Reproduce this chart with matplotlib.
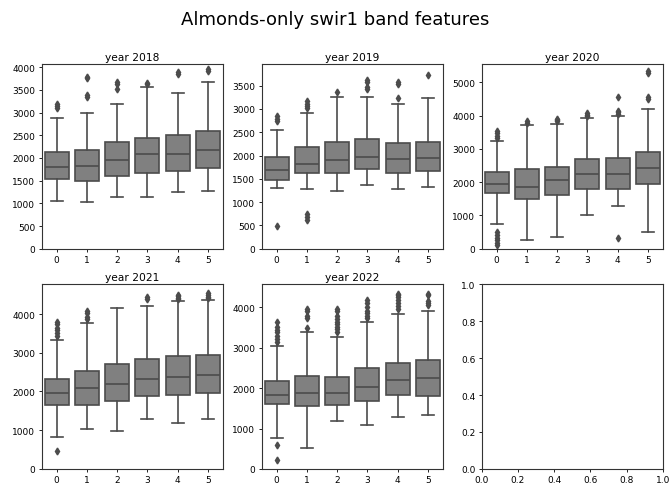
import matplotlib
matplotlib.use("Agg")
import matplotlib.pyplot as plt
from matplotlib.ticker import MultipleLocator

# box stats, one list per year, index = class 0..5
years = [2018, 2019, 2020, 2021, 2022]
classes = [0, 1, 2, 3, 4, 5]

lo_2018 = [1060, 1040, 1140, 1140, 1250, 1270]
q1_2018 = [1540, 1500, 1600, 1680, 1720, 1790]
med_2018 = [1800, 1830, 1960, 2090, 2090, 2180]
q3_2018 = [2140, 2170, 2350, 2450, 2510, 2590]
hi_2018 = [2870, 3000, 3200, 3560, 3440, 3680]
fl_2018 = [[3100, 3150, 3200], [3350, 3380, 3760, 3790], [3530, 3620, 3680],
           [3640, 3660], [3850, 3890], [3920, 3960]]

lo_2019 = [1300, 1290, 1240, 1360, 1280, 1330]
q1_2019 = [1485, 1636, 1636, 1707, 1636, 1671]
med_2019 = [1686, 1829, 1901, 1973, 1923, 1951]
q3_2019 = [1973, 2174, 2281, 2346, 2267, 2296]
hi_2019 = [2547, 2920, 3264, 3264, 3099, 3228]
fl_2019 = [[490, 2740, 2790, 2850], [620, 680, 740, 3020, 3060, 3100, 3170], [3360],
           [3430, 3470, 3590, 3620], [3240, 3540, 3580], [3720]]

lo_2020 = [733, 251, 361, 1014, 1285, 512]
q1_2020 = [1667, 1506, 1617, 1807, 1807, 1938]
med_2020 = [1938, 1867, 2058, 2249, 2249, 2440]
q3_2020 = [2309, 2410, 2470, 2691, 2721, 2912]
hi_2020 = [3233, 3715, 3745, 3926, 3996, 4197]
fl_2020 = [[100, 170, 250, 330, 420, 500, 3330, 3400, 3470, 3550], [3790, 3830],
           [3850, 3880, 3910], [3980, 4030, 4070], [320, 4060, 4100, 4150, 4560],
           [4500, 4550, 5280, 5340]]

lo_2021 = [824, 1021, 970, 1296, 1185, 1279]
q1_2021 = [1639, 1657, 1742, 1871, 1897, 1957]
med_2021 = [1957, 2094, 2197, 2326, 2369, 2438]
q3_2021 = [2326, 2524, 2712, 2841, 2910, 2953]
hi_2021 = [3339, 3760, 4155, 4197, 4326, 4369]
fl_2021 = [[455, 3420, 3500, 3580, 3650, 3730, 3800], [3880, 3920, 4020, 4080], [],
           [4400, 4450], [4380, 4420, 4460, 4500], [4410, 4450, 4500, 4550]]

lo_2022 = [774, 519, 1185, 1078, 1284, 1340]
q1_2022 = [1597, 1556, 1588, 1679, 1819, 1794]
med_2022 = [1819, 1877, 1877, 2035, 2195, 2240]
q3_2022 = [2189, 2296, 2272, 2494, 2630, 2690]
hi_2022 = [3053, 3383, 3259, 3640, 3830, 3910]
fl_2022 = [[230, 600, 3150, 3230, 3290, 3400, 3450, 3520, 3640],
           [3480, 3730, 3790, 3900, 3960],
           [3380, 3460, 3520, 3600, 3650, 3720, 3800, 3900, 3960],
           [3730, 3790, 3850, 3900, 4000, 4100, 4180],
           [3970, 4030, 4100, 4180, 4250, 4300, 4340],
           [4050, 4100, 4150, 4300, 4340]]

stats_by_year = [
    (lo_2018, q1_2018, med_2018, q3_2018, hi_2018, fl_2018),
    (lo_2019, q1_2019, med_2019, q3_2019, hi_2019, fl_2019),
    (lo_2020, q1_2020, med_2020, q3_2020, hi_2020, fl_2020),
    (lo_2021, q1_2021, med_2021, q3_2021, hi_2021, fl_2021),
    (lo_2022, q1_2022, med_2022, q3_2022, hi_2022, fl_2022),
]

ylim_top = [4070, 3965, 5550, 4770, 4575]
ytick_step = [500, 500, 1000, 1000, 1000]

box_fill = "#808080"
line_grey = "#4c4c4c"

fig, axes = plt.subplots(2, 3, figsize=(6.71, 4.89), dpi=100)
fig.subplots_adjust(left=0.062, right=0.988, bottom=0.039, top=0.867,
                    wspace=0.213, hspace=0.192)
fig.suptitle("Almonds-only swir1 band features", fontsize=13, y=0.978)

line_kw = dict(color=line_grey, linewidth=1.2)

for i, ax in enumerate(axes.flat):
    for sp in ax.spines.values():
        sp.set_linewidth(0.8)
        sp.set_color("#333333")
    ax.tick_params(labelsize=6.5, length=2.5, width=0.6, pad=2)
    if i >= len(years):
        continue
    lo, q1, med, q3, hi, fl = stats_by_year[i]
    bstats = []
    for k in range(len(classes)):
        bstats.append(dict(whislo=lo[k], q1=q1[k], med=med[k], q3=q3[k],
                           whishi=hi[k], fliers=fl[k]))
    ax.bxp(bstats, positions=classes, widths=0.8, patch_artist=True,
           boxprops=dict(facecolor=box_fill, edgecolor=line_grey, linewidth=1.2),
           medianprops=line_kw, whiskerprops=line_kw, capprops=line_kw,
           flierprops=dict(marker="d", markersize=3.5, markerfacecolor=line_grey,
                           markeredgecolor=line_grey, linestyle="none"))
    ax.set_xlim(-0.5, 5.5)
    ax.set_xticks(classes)
    ax.set_xticklabels([str(c) for c in classes])
    ax.set_ylim(0, ylim_top[i])
    ax.yaxis.set_major_locator(MultipleLocator(ytick_step[i]))
    ax.set_title("year %d" % years[i], fontsize=7.7, pad=3)

plt.savefig("out.png", dpi=100)
